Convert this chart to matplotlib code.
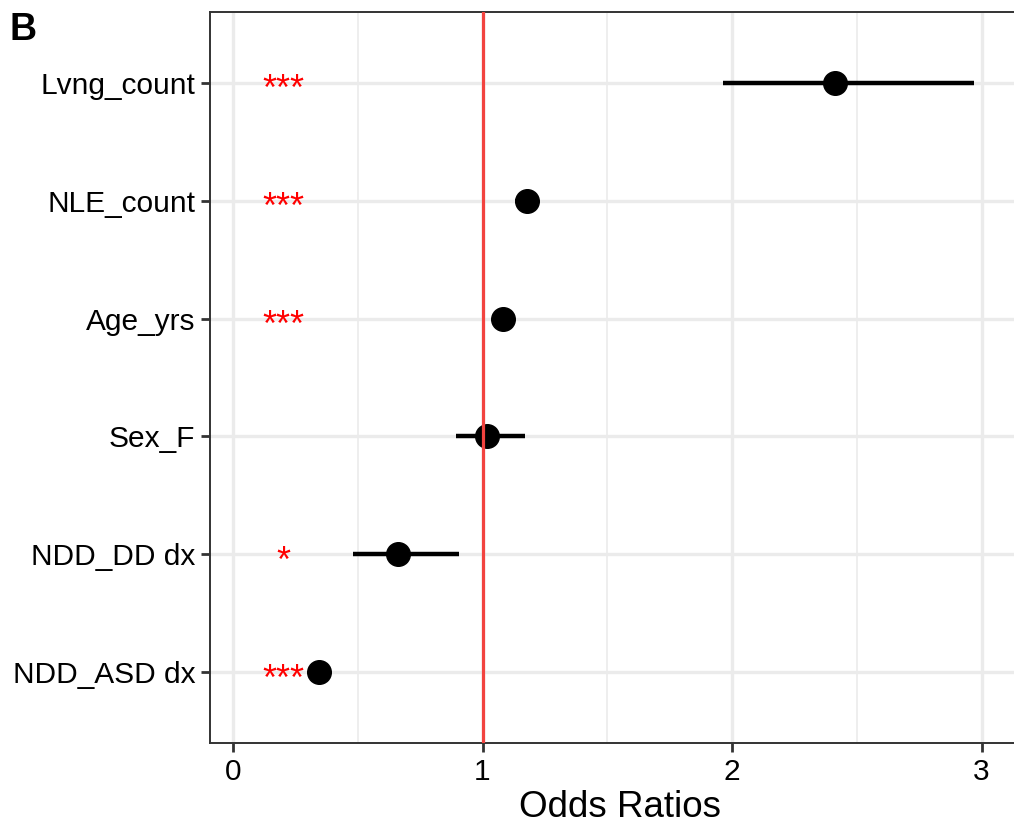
import matplotlib.pyplot as plt
import numpy as np

plt.rcParams['font.family'] = ['Liberation Sans', 'DejaVu Sans']

# rows listed bottom to top
labels = ['NDD_ASD dx', 'NDD_DD dx', 'Sex_F', 'Age_yrs', 'NLE_count', 'Lvng_count']
odds = [0.345, 0.661, 1.018, 1.082, 1.178, 2.413]
ci_low = [0.30, 0.481, 0.892, 1.05, 1.13, 1.964]
ci_high = [0.39, 0.906, 1.170, 1.11, 1.226, 2.970]
stars = ['***', '*', '', '***', '***', '***']
star_x = 0.2

fig = plt.figure(figsize=(10.14, 8.27), dpi=100)
W, H = 1014, 827
# panel runs past the right edge of the figure, as in the reference
ax = fig.add_axes([210 / W, 84 / H, (1030 - 210) / W, (743 - 12) / H])

ypos = np.arange(len(labels))

ax.set_xlim(-0.0922, 3.194)
ax.set_ylim(-0.6, len(labels) - 0.4)

ax.set_xticks([0, 1, 2, 3])
ax.set_xticks([0.5, 1.5, 2.5], minor=True)
ax.set_yticks(ypos)
ax.set_yticklabels(labels)

ax.grid(which='major', color='#EBEBEB', linewidth=2.4, zorder=0)
ax.grid(which='minor', axis='x', color='#EBEBEB', linewidth=1.2, zorder=0)
ax.set_axisbelow(True)

for s in ['left', 'top', 'bottom']:
    ax.spines[s].set_color('#333333')
    ax.spines[s].set_linewidth(1.4)
ax.spines['right'].set_visible(False)

ax.tick_params(which='major', length=6.5, width=2, color='#333333',
               labelsize=21.5, labelcolor='black', pad=4)
ax.tick_params(which='minor', length=0)

# confidence intervals and point estimates
ax.hlines(ypos, ci_low, ci_high, color='black', linewidth=3.2, zorder=3)
ax.plot(odds, ypos, 'o', color='black', markersize=17, zorder=4)

ax.axvline(1, color='#F2433F', linewidth=2.3, zorder=5)

for y, s in zip(ypos, stars):
    if s:
        ax.annotate(s, (star_x, y), xytext=(0, -12.5), textcoords='offset points',
                    color='red', fontsize=26, ha='center', va='baseline', zorder=6)

ax.set_xlabel('Odds Ratios', fontsize=26.5, labelpad=3)

fig.text(10 / W, 1 - 40 / H, 'B', fontsize=27, fontweight='bold')

fig.savefig('out.png', dpi=100)
